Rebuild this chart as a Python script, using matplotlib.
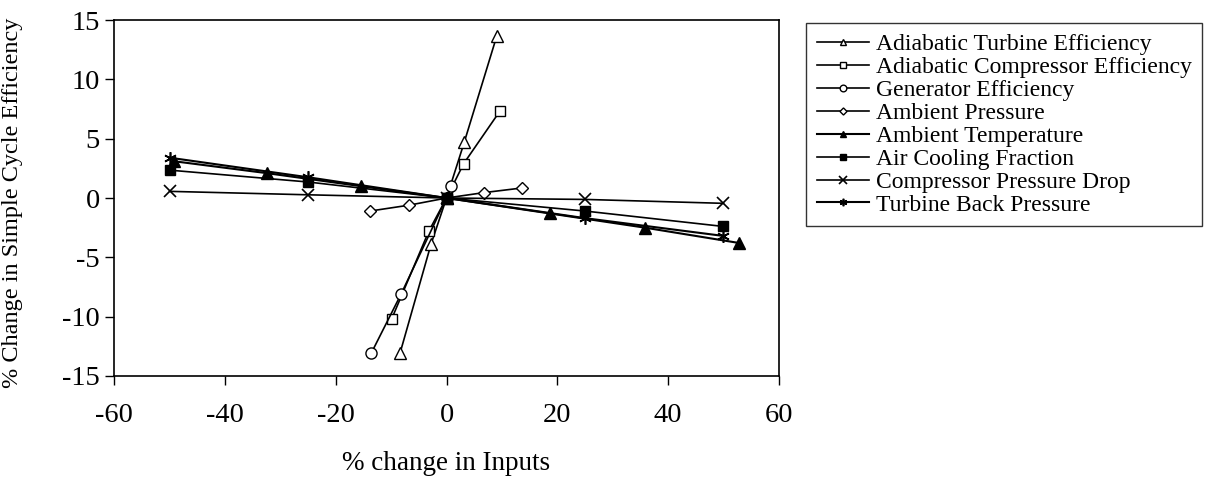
import matplotlib
matplotlib.use("Agg")
import matplotlib.pyplot as plt

plt.rcParams['font.family'] = ['Liberation Serif', 'DejaVu Serif']
plt.rcParams['axes.unicode_minus'] = False

turb_x = [-8.4, -2.8, 0, 3.2, 9.1]
turb_y = [-13.1, -3.9, 0, 4.7, 13.7]
comp_x = [-9.9, -3.2, 0, 3.1, 9.6]
comp_y = [-10.2, -2.8, 0, 2.9, 7.3]
gen_x = [-13.6, -8.2, 0, 0.85]
gen_y = [-13.1, -8.1, 0, 1.05]
pamb_x = [-13.8, -6.7, 0, 6.7, 13.7]
pamb_y = [-1.1, -0.6, 0, 0.45, 0.85]
tamb_x = [-49.2, -32.5, -15.5, 0, 18.6, 35.8, 52.9]
tamb_y = [3.1, 2.1, 1.0, 0, -1.3, -2.5, -3.8]
cool_x = [-50, -25, 0, 25, 50]
cool_y = [2.35, 1.35, 0, -1.1, -2.4]
cpd_x = [-50, -25, 0, 25, 50]
cpd_y = [0.56, 0.27, 0, -0.12, -0.45]
tbp_x = [-50, -25, 0, 25, 50]
tbp_y = [3.4, 1.75, 0, -1.7, -3.2]

labels = ["Adiabatic Turbine Efficiency", "Adiabatic Compressor Efficiency",
          "Generator Efficiency", "Ambient Pressure", "Ambient Temperature",
          "Air Cooling Fraction", "Compressor Pressure Drop", "Turbine Back Pressure"]

fig = plt.figure(figsize=(12.15, 4.8), dpi=100)
ax = fig.add_axes([0.094, 0.217, 0.547, 0.741])

ms = 8
ax.plot(turb_x, turb_y, color="black", lw=1.2, marker="^", ms=ms, mfc="white", mec="black", label=labels[0])
ax.plot(comp_x, comp_y, color="black", lw=1.2, marker="s", ms=ms - 1, mfc="white", mec="black", label=labels[1])
ax.plot(gen_x, gen_y, color="black", lw=1.2, marker="o", ms=ms, mfc="white", mec="black", label=labels[2])
ax.plot(pamb_x, pamb_y, color="black", lw=1.2, marker="D", ms=ms - 2, mfc="white", mec="black", label=labels[3])
ax.plot(tamb_x, tamb_y, color="black", lw=1.5, marker="^", ms=ms, mfc="black", mec="black", label=labels[4])
ax.plot(cool_x, cool_y, color="black", lw=1.2, marker="s", ms=ms - 1, mfc="black", mec="black", label=labels[5])
ax.plot(cpd_x, cpd_y, color="black", lw=1.2, marker="x", ms=ms + 1, mew=1.2, label=labels[6])
ax.plot(tbp_x, tbp_y, color="black", lw=1.5, marker=(6, 2, 0), ms=ms + 1, mew=1.2, label=labels[7])

ax.set_xlim(-60, 60)
ax.set_ylim(-15, 15)
ax.set_xticks(range(-60, 61, 20))
ax.set_yticks(range(-15, 16, 5))
ax.tick_params(direction="out", length=6.5, width=1, labelsize=20.5)
ax.tick_params(axis="x", pad=13)
ax.tick_params(axis="y", pad=4)
for s in ax.spines.values():
    s.set_linewidth(1.2)

ax.set_xlabel("% change in Inputs", fontsize=19.5)
ax.set_ylabel("% Change in Simple Cycle Efficiency", fontsize=17.5)
ax.xaxis.set_label_coords(0.5, -0.21)
ax.yaxis.set_label_coords(-0.137, 0.486)

leg = fig.legend(loc="upper left", bbox_to_anchor=(806 / 1215, 1 - 23 / 480),
                 fontsize=17, frameon=True, fancybox=False, edgecolor="black",
                 handlelength=2.2, handletextpad=0.3, labelspacing=0.06,
                 borderpad=0.45, borderaxespad=0, markerscale=0.6)
leg.get_frame().set_linewidth(1)

fig.savefig("out.png", dpi=100)
